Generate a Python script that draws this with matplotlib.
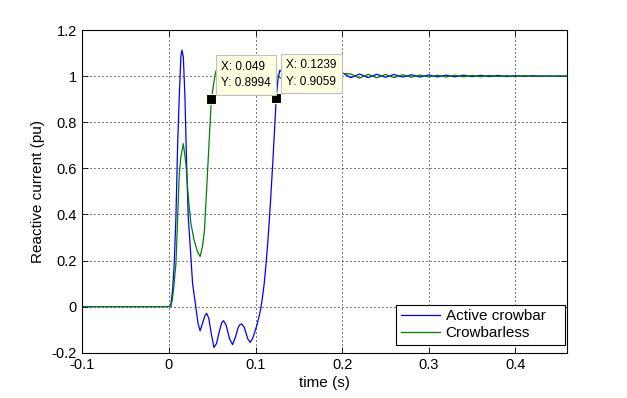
import matplotlib
matplotlib.use("Agg")
import matplotlib.pyplot as plt
from matplotlib.ticker import FuncFormatter

plt.rcParams['font.family'] = ['Liberation Sans', 'DejaVu Sans']

# ---------------- data ----------------
blue_t = [-0.1, 0.002, 0.0042, 0.0061, 0.0081, 0.010, 0.0119, 0.0138, 0.015, 0.0166, 0.0185,
          0.0204, 0.0223, 0.0246, 0.0273, 0.031, 0.0335, 0.036, 0.039, 0.0415, 0.0435, 0.046,
          0.049, 0.052, 0.055, 0.058, 0.061, 0.063, 0.066, 0.070, 0.0735, 0.077, 0.080, 0.082,
          0.084, 0.087, 0.091, 0.094, 0.097, 0.100, 0.102, 0.106, 0.108, 0.110, 0.112, 0.114,
          0.116, 0.1176, 0.120, 0.122, 0.1239, 0.126, 0.128,
          0.13, 0.14, 0.15, 0.16, 0.17, 0.18, 0.19, 0.20, 0.21, 0.22, 0.23, 0.24, 0.25, 0.26,
          0.27, 0.28, 0.29, 0.30, 0.31, 0.32, 0.33, 0.34, 0.35, 0.36, 0.37, 0.38, 0.39, 0.40,
          0.41, 0.42, 0.43, 0.44, 0.45, 0.46]
blue_v = [0.0, 0.0, 0.072, 0.186, 0.39, 0.694, 0.91, 1.084, 1.113, 1.084, 0.91,
          0.62, 0.39, 0.26, 0.10, 0.0, -0.072, -0.105, -0.07, -0.04, -0.029, -0.05,
          -0.12, -0.177, -0.16, -0.11, -0.07, -0.061, -0.08, -0.14, -0.165, -0.13, -0.09, -0.078,
          -0.075, -0.09, -0.14, -0.155, -0.135, -0.10, -0.075, -0.01, 0.04, 0.099, 0.18, 0.27,
          0.38, 0.475, 0.63, 0.77, 0.9059, 0.99, 1.025,
          1.02, 0.99, 1.015, 0.99, 1.012, 0.992, 1.01, 1.015, 0.993, 1.009, 0.994, 1.008, 0.995,
          1.007, 0.996, 1.006, 0.996, 1.005, 0.997, 1.004, 0.997, 1.004, 0.998, 1.003, 0.998,
          1.003, 0.998, 1.002, 0.999, 1.002, 0.999, 1.001, 0.999, 1.0]

green_t = [-0.1, 0.002, 0.004, 0.006, 0.0081, 0.010, 0.012, 0.0138, 0.0166, 0.0196, 0.0223,
           0.0254, 0.029, 0.033, 0.036, 0.0387, 0.041, 0.0435, 0.0465, 0.049, 0.0523, 0.054,
           0.057, 0.06, 0.07, 0.08, 0.09, 0.10, 0.11, 0.12,
           0.13, 0.14, 0.15, 0.16, 0.17, 0.18, 0.19, 0.20, 0.21, 0.22, 0.23, 0.24, 0.25, 0.26,
           0.27, 0.28, 0.29, 0.30, 0.31, 0.32, 0.33, 0.34, 0.35, 0.36, 0.37, 0.38, 0.39, 0.40,
           0.41, 0.42, 0.43, 0.44, 0.45, 0.46]
green_v = [0.0, 0.0, 0.03, 0.10, 0.188, 0.38, 0.578, 0.65, 0.707, 0.62, 0.477,
           0.36, 0.29, 0.238, 0.217, 0.26, 0.33, 0.506, 0.722, 0.8994, 0.983, 1.02,
           1.03, 1.03, 1.0, 0.985, 1.01, 1.0, 0.99, 1.01,
           0.99, 1.012, 0.99, 1.012, 0.991, 1.01, 0.992, 1.012,
           1.009, 0.991, 1.008, 0.993, 1.007, 0.994, 1.006, 0.995, 1.005, 0.996, 1.004, 0.996,
           1.004, 0.997, 1.003, 0.997, 1.003, 0.998, 1.002, 0.998, 1.002, 0.999, 1.001, 0.999,
           1.001, 1.0]

series_labels = ["Active crowbar", "Crowbarless"]
tips = [(0.049, 0.8994), (0.1239, 0.9059)]
x_ticks = [-0.1, 0.0, 0.1, 0.2, 0.3, 0.4]
y_ticks = [-0.2, 0.0, 0.2, 0.4, 0.6, 0.8, 1.0, 1.2]

# ---------------- figure ----------------
fig = plt.figure(figsize=(6.27, 3.98), dpi=100)
ax = fig.add_axes([0.1313, 0.1138, 0.7735, 0.8108])

ax.plot(blue_t, blue_v, color='#0000FF', lw=0.9, label=series_labels[0])
ax.plot(green_t, green_v, color='#008000', lw=0.9, label=series_labels[1])

ax.set_xlim(-0.1, 0.46)
ax.set_ylim(-0.2, 1.2)
ax.set_xticks(x_ticks)
ax.set_yticks(y_ticks)
fmt = FuncFormatter(lambda v, p: ('%g' % round(v, 3)))
ax.xaxis.set_major_formatter(fmt)
ax.yaxis.set_major_formatter(fmt)
ax.tick_params(direction='in', length=4, width=0.6, top=True, right=True,
               labelsize=10.5, pad=4)
ax.grid(True, color='black', linestyle=(0, (1, 3)), linewidth=0.72)
for s in ax.spines.values():
    s.set_linewidth(0.8)

ax.set_xlabel("time (s)", fontsize=11, labelpad=3)
ax.set_ylabel("Reactive current (pu)", fontsize=11, labelpad=5)

# data tips
for (tx, ty) in tips:
    ax.plot([tx], [ty], marker='s', markersize=6.5, color='black',
            markeredgecolor='#FFFFE1', markeredgewidth=0.8, zorder=5)
    ax.annotate("X: %g\nY: %g" % (tx, ty), xy=(tx, ty), xytext=(10, 10),
                textcoords='offset pixels', ha='left', va='bottom', fontsize=8.5,
                linespacing=1.5, zorder=6,
                bbox=dict(boxstyle='square,pad=0.45', facecolor='#FFFFE1',
                          edgecolor='#C0C0C0', linewidth=0.8))

leg = ax.legend(loc='lower left', bbox_to_anchor=(0.6468, 0.0239, 0.3478, 0.13),
                mode='expand', borderaxespad=0,
                fontsize=11, fancybox=False, edgecolor='black', framealpha=1,
                handlelength=2.6, handletextpad=0.35, labelspacing=0.2,
                borderpad=0.3)
leg.get_frame().set_linewidth(0.8)

fig.savefig("out.png", dpi=100)
